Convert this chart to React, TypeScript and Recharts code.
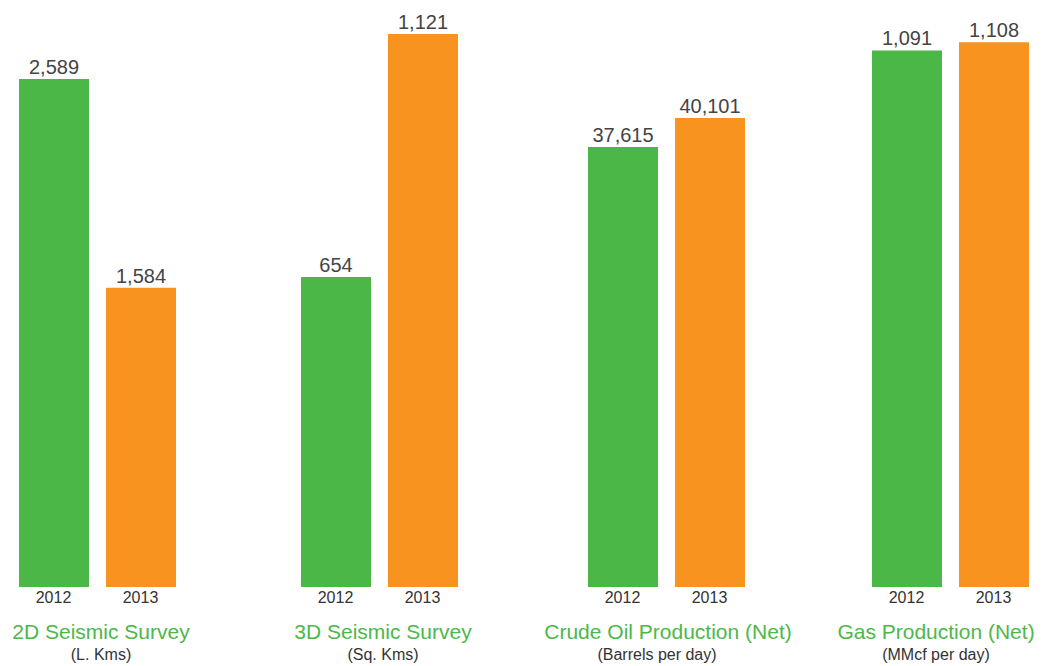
import { Bar, BarChart, Cell, LabelList, XAxis, YAxis } from "recharts"

const years = ["2012", "2013"]
const titles = ["2D Seismic Survey", "3D Seismic Survey", "Crude Oil Production (Net)", "Gas Production (Net)"]
const units = ["(L. Kms)", "(Sq. Kms)", "(Barrels per day)", "(MMcf per day)"]
const values2012 = [2589, 654, 37615, 1091]
const values2013 = [1584, 1121, 40101, 1108]

const GREEN = "#4bb747"
const ORANGE = "#f7931e"
const FONT = "'Liberation Sans', Arial, Helvetica, sans-serif"

// layout per panel: chart left edge, y domain, title / unit centres
const panelLeft = [-30.5, 251.5, 538.5, 822.5]
const panelDomain: [number, number][] = [
  [143, 2873],
  [58, 1148],
  [0, 48480],
  [0, 1153],
]
const titleCenter = [101, 383, 668, 936]
const unitCenter = [101, 383, 657, 936]

const fmt = (v: number) => v.toLocaleString("en-US")

function Panel({ i }: { i: number }) {
  const data = years.map((year, k) => ({
    year,
    value: k === 0 ? values2012[i] : values2013[i],
  }))
  return (
    <div style={{ position: "absolute", left: panelLeft[i], top: 0 }}>
      <BarChart
        width={254}
        height={617}
        data={data}
        margin={{ top: 20, right: 40, left: 40, bottom: 0 }}
        barCategoryGap={0}
      >
        <XAxis
          dataKey="year"
          axisLine={false}
          tickLine={false}
          tickSize={0}
          tickMargin={5}
          height={30}
          tick={{ fontSize: 16, fill: "#333", fontFamily: FONT }}
          interval={0}
        />
        <YAxis hide domain={panelDomain[i]} type="number" />
        <Bar dataKey="value" barSize={70} isAnimationActive={false}>
          {data.map((d, k) => (
            <Cell key={d.year} fill={k === 0 ? GREEN : ORANGE} />
          ))}
          <LabelList
            dataKey="value"
            position="top"
            offset={5}
            formatter={(v: any) => fmt(Number(v))}
            style={{ fontSize: 20, fill: "#444", fontFamily: FONT }}
          />
        </Bar>
      </BarChart>
    </div>
  )
}

export default function App() {
  return (
    <div
      style={{
        position: "absolute",
        left: 0,
        top: 0,
        width: 1054,
        height: 666,
        background: "#fff",
        overflow: "hidden",
        fontFamily: FONT,
      }}
    >
      {titles.map((_, i) => (
        <Panel key={i} i={i} />
      ))}
      {titles.map((t, i) => (
        <div
          key={"t" + i}
          style={{
            position: "absolute",
            left: titleCenter[i] - 150,
            width: 300,
            top: 621,
            textAlign: "center",
            fontSize: 21,
            lineHeight: "21px",
            color: "#4db84a",
            whiteSpace: "nowrap",
          }}
        >
          {t}
        </div>
      ))}
      {units.map((u, i) => (
        <div
          key={"u" + i}
          style={{
            position: "absolute",
            left: unitCenter[i] - 100,
            width: 200,
            top: 647,
            textAlign: "center",
            fontSize: 16,
            lineHeight: "16px",
            color: "#333",
            whiteSpace: "nowrap",
          }}
        >
          {u}
        </div>
      ))}
    </div>
  )
}
